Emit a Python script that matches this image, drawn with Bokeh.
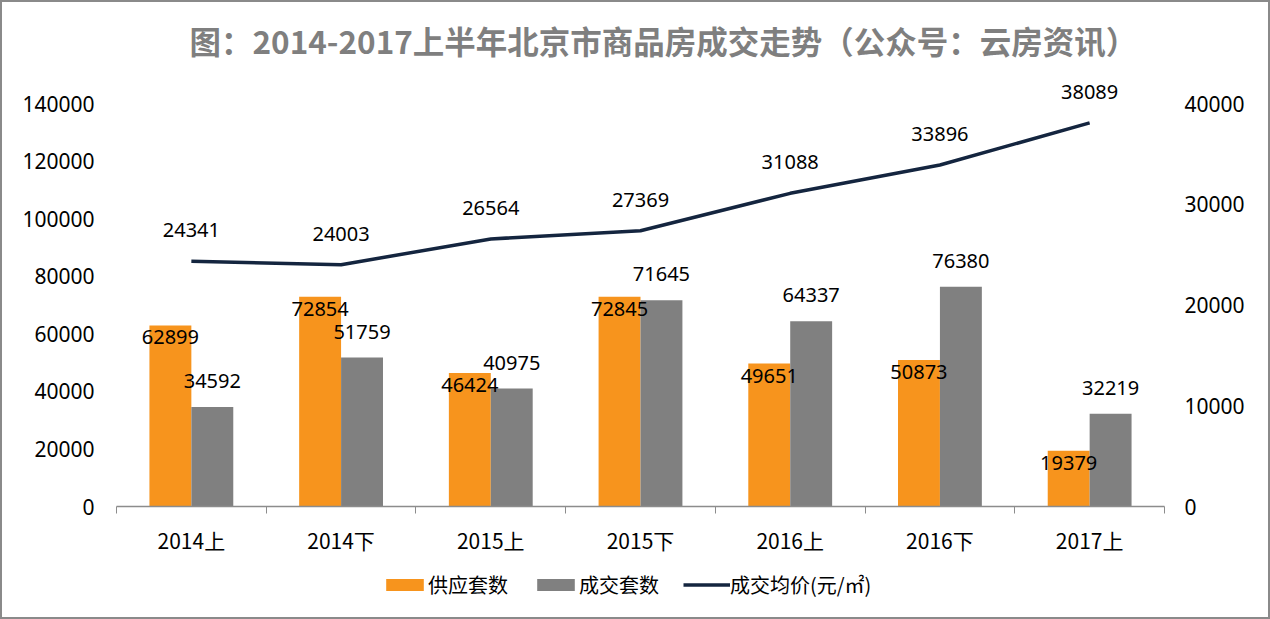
from bokeh.plotting import figure
from bokeh.layouts import column
from bokeh.models import (Range1d, LinearAxis, FixedTicker, ColumnDataSource, LabelSet,
                          Legend, LegendItem, Title, BasicTickFormatter)
from bokeh.core.properties import value
from bokeh.transform import dodge
from bokeh.embed import file_html
from bokeh.resources import INLINE

periods = ["2014上", "2014下", "2015上", "2015下", "2016上", "2016下", "2017上"]
supply = [62899, 72854, 46424, 72845, 49651, 50873, 19379]
deals = [34592, 51759, 40975, 71645, 64337, 76380, 32219]
price = [24341, 24003, 26564, 27369, 31088, 33896, 38089]
left_ticks = [0, 20000, 40000, 60000, 80000, 100000, 120000, 140000]
right_ticks = [0, 10000, 20000, 30000, 40000]
series_names = ["供应套数", "成交套数", "成交均价(元/㎡)"]

xs = [i + 0.5 for i in range(len(periods))]
src = ColumnDataSource(dict(x=xs, supply=supply, deals=deals, price=price,
                            supply_t=[str(v) for v in supply],
                            deals_t=[str(v) for v in deals],
                            price_t=[str(v) for v in price]))

ORANGE = "#F7941D"
GRAY = "#808080"
NAVY = "#14253F"
BORDER = "2px solid #8a8a8a"
NUM_FONT = "Noto Sans"
CJK_FONT = "Noto Sans CJK SC"

# axis area is 402px tall; extra 30px headroom above the top tick for the value labels
AXIS_PX = 402
HEAD_PX = 30
ymax_left = left_ticks[-1] * (1 + HEAD_PX / AXIS_PX)
ymax_right = right_ticks[-1] * (1 + HEAD_PX / AXIS_PX)

p = figure(width=1270, height=560, output_backend="svg", toolbar_location=None,
           x_range=Range1d(0, len(periods)), y_range=Range1d(0, ymax_left),
           min_border_left=114, min_border_right=108, min_border_top=71, min_border_bottom=56)
p.styles = {"border-top": BORDER, "border-left": BORDER, "border-right": BORDER,
            "box-sizing": "border-box"}
p.extra_y_ranges = {"price": Range1d(0, ymax_right)}
p.grid.visible = False
p.outline_line_color = None
p.background_fill_color = "white"
p.border_fill_color = "white"

p.add_layout(Title(text="图：2014-2017上半年北京市商品房成交走势（公众号：云房资讯）",
                   text_font=CJK_FONT, text_font_size="31.5px", text_font_style="bold",
                   text_color="#7f7f7f", align="left", offset=73, standoff=22), "above")

# x axis
xa = p.xaxis[0]
xa.ticker = FixedTicker(ticks=xs, minor_ticks=list(range(len(periods) + 1)))
xa.major_label_overrides = {x: s for x, s in zip(xs, periods)}
xa.major_tick_line_color = None
xa.minor_tick_line_color = "#8c8c8c"
xa.minor_tick_in = 0
xa.minor_tick_out = 7
xa.axis_line_color = "#8c8c8c"
xa.axis_line_width = 1.5
xa.major_label_text_font = CJK_FONT
xa.major_label_text_font_size = "21px"
xa.major_label_text_color = "#000000"
xa.major_label_standoff = 11

ya = p.yaxis[0]
ya.ticker = FixedTicker(ticks=left_ticks)
ya.formatter = BasicTickFormatter(use_scientific=False)
ya.axis_line_color = None
ya.major_tick_line_color = None
ya.minor_tick_line_color = None
ya.major_label_text_font = NUM_FONT
ya.major_label_text_font_size = "21px"
ya.major_label_text_color = "#000000"
ya.major_label_standoff = 16

ra = LinearAxis(y_range_name="price", ticker=FixedTicker(ticks=right_ticks),
                formatter=BasicTickFormatter(use_scientific=False))
ra.axis_line_color = None
ra.major_tick_line_color = None
ra.minor_tick_line_color = None
ra.major_label_text_font = NUM_FONT
ra.major_label_text_font_size = "21px"
ra.major_label_text_color = "#000000"
ra.major_label_standoff = 14
p.add_layout(ra, "right")

bw = 0.28
p.vbar(x=dodge("x", -bw / 2, range=p.x_range), top="supply", width=bw, source=src,
       fill_color=ORANGE, line_color=None)
p.vbar(x=dodge("x", bw / 2, range=p.x_range), top="deals", width=bw, source=src,
       fill_color=GRAY, line_color=None)
p.line(x="x", y="price", source=src, y_range_name="price", line_color=NAVY, line_width=3.5)

lab_kw = dict(text_font=value(NUM_FONT), text_font_size=value("20px"), text_color="#000000",
              text_align="center", text_baseline="middle", source=src)
p.add_layout(LabelSet(x=dodge("x", -bw / 2, range=p.x_range), y="supply", text="supply_t",
                      y_offset=-12, **lab_kw))
p.add_layout(LabelSet(x=dodge("x", bw / 2, range=p.x_range), y="deals", text="deals_t",
                      y_offset=26, **lab_kw))
p.add_layout(LabelSet(x="x", y="price", text="price_t", y_range_name="price",
                      y_offset=31, **lab_kw))

# legend strip below the chart (hidden renderers only provide the legend swatches)
q = figure(width=1270, height=59, output_backend="svg", toolbar_location=None,
           x_range=Range1d(0, len(periods)), y_range=Range1d(0, ymax_left),
           min_border_left=114, min_border_right=108, min_border_top=0, min_border_bottom=14)
q.styles = {"border-bottom": BORDER, "border-left": BORDER, "border-right": BORDER,
            "box-sizing": "border-box"}
q.axis.visible = False
q.grid.visible = False
q.outline_line_color = None
q.border_fill_color = "white"
l1 = q.vbar(x="x", top="supply", width=bw, source=src, fill_color=ORANGE, line_color=None)
l2 = q.vbar(x="x", top="deals", width=bw, source=src, fill_color=GRAY, line_color=None)
l3 = q.line(x="x", y="supply", source=src, line_color=NAVY, line_width=3.5)
for r in (l1, l2, l3):
    r.visible = False
legend = Legend(items=[LegendItem(label=series_names[0], renderers=[l1]),
                       LegendItem(label=series_names[1], renderers=[l2]),
                       LegendItem(label=series_names[2], renderers=[l3])],
                orientation="horizontal", location=(265, 6),
                label_text_font=CJK_FONT, label_text_font_size="20px",
                label_text_color="#000000", glyph_width=47, glyph_height=15,
                label_standoff=0, spacing=24, border_line_color=None,
                background_fill_alpha=0, inactive_fill_alpha=0, padding=4, margin=0)
q.add_layout(legend, "center")

layout = column(p, q, spacing=0)
open("out.html", "w").write(file_html(layout, INLINE))
